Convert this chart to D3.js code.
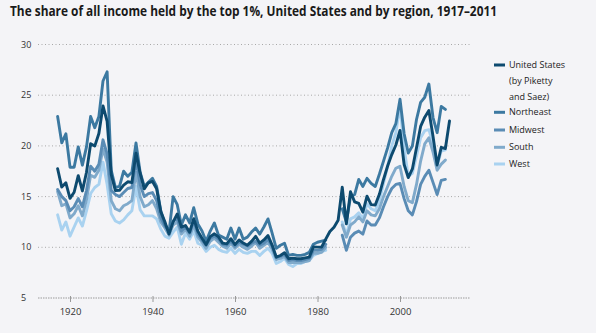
<!DOCTYPE html>
<html>
<head>
<meta charset="utf-8">
<script src="https://cdn.jsdelivr.net/npm/d3@7"></script>
<style>
  html, body { margin: 0; padding: 0; background: #f4f4f7; }
  svg { display: block; font-family: "Open Sans", "DejaVu Sans", sans-serif; }
</style>
</head>
<body>
<svg id="chart" width="596" height="333"></svg>
<script>
// top 1% income share, %; US runs 1917-2012, regions 1917-2011 with a gap 1983-85
const usYears = d3.range(1917, 2013)
const regionYears = d3.range(1917, 2012)

const unitedStates = [
  17.75, 15.94, 16.36, 14.83, 15.43, 17.06, 15.56, 17.4, 20.21, 19.98,
  21.23, 23.94, 22.42, 17.16, 15.6, 15.61, 16.14, 16.46, 16.39, 19.29,
  17.31, 15.76, 16.36, 16.49, 15.77, 13.52, 12.52, 11.3, 12.51, 13.29,
  11.99, 12.15, 11.49, 12.82, 11.59, 10.9, 10.26, 11.05, 11.33, 11.02,
  10.41, 10.34, 10.85, 10.27, 10.73, 10.42, 10.21, 10.58, 11.08, 10.41,
  10.73, 11.16, 10.22, 9.03, 9.19, 9.47, 8.87, 8.93, 8.87, 8.87,
  8.95, 9.03, 10.03, 10.02, 10.03, 10.8, 11.56, 11.98, 12.67, 15.92,
  12.31, 15.48, 14.48, 14.33, 13.47, 15.04, 14.21, 14.17, 15.23, 16.69,
  18.02, 19.14, 20.09, 21.52, 18.17, 16.88, 17.73, 19.82, 21.92, 22.83,
  23.5, 20.95, 18.12, 19.86, 19.74, 22.46
]

const northeast = [
  22.9, 20.3, 21.2, 17.9, 17.9, 19.9, 18.1, 19.9, 22.9, 21.8,
  22.9, 26.4, 27.3, 17.6, 15.9, 16.0, 17.5, 17.0, 17.4, 20.3,
  17.4, 16.0, 16.4, 16.8, 16.0, 13.6, 12.3, 11.5, 15.0, 14.2,
  12.2, 13.2, 12.4, 13.9, 12.3, 11.6, 10.6, 11.6, 12.4, 11.2,
  11.0, 10.8, 11.9, 10.8, 11.9, 10.8, 11.0, 11.5, 11.9, 11.3,
  12.0, 12.8, 11.4, 9.9, 10.2, 10.4, 9.2, 9.3, 9.2, 9.2,
  9.3, 9.5, 10.3, 10.5, 10.6, 10.7, null, null, null, 13.8,
  12.5, 15.0, 15.2, 16.7, 16.0, 16.8, 16.3, 16.0, 17.2, 18.5,
  19.8, 21.3, 22.2, 24.6, 21.2, 19.3, 20.0, 22.6, 24.3, 24.8,
  26.1, 22.8, 21.3, 23.9, 23.6
]

const midwest = [
  15.7, 15.0, 14.6, 13.6, 14.0, 14.8, 14.0, 15.6, 18.0, 17.5,
  18.2, 20.6, 19.2, 15.6, 15.2, 15.0, 15.4, 15.8, 15.9, 18.6,
  16.2, 15.0, 15.3, 15.4, 14.6, 12.9, 12.1, 11.6, 12.6, 12.8,
  11.6, 12.0, 11.4, 12.6, 11.3, 10.7, 10.2, 10.9, 11.1, 10.8,
  10.3, 10.2, 10.6, 10.1, 10.5, 10.3, 10.1, 10.4, 10.6, 10.2,
  10.4, 10.8, 10.1, 9.0, 9.1, 9.3, 8.7, 8.8, 8.7, 8.7,
  8.8, 8.9, 9.7, 9.7, 9.8, 10.3, null, null, null, 11.2,
  9.7, 11.0, 11.4, 11.6, 11.3, 12.6, 12.2, 12.2, 12.9, 14.0,
  15.0, 15.8, 16.2, 16.3, 14.8, 13.6, 13.2, 14.5, 16.2, 17.0,
  17.6, 16.4, 15.2, 16.6, 16.7
]

const south = [
  15.5, 14.1, 14.3, 12.9, 13.3, 14.1, 13.1, 14.7, 17.1, 16.9,
  17.6, 19.7, 18.4, 14.6, 13.8, 13.6, 14.1, 14.3, 14.6, 17.4,
  15.0, 14.0, 14.2, 14.6, 13.8, 12.5, 11.9, 11.2, 12.2, 12.5,
  11.3, 11.8, 11.1, 12.2, 11.0, 10.5, 9.9, 10.6, 10.9, 10.5,
  10.1, 9.9, 10.4, 9.9, 10.3, 10.0, 9.8, 10.1, 10.5, 9.9,
  10.2, 10.5, 9.8, 8.8, 8.9, 9.1, 8.5, 8.5, 8.5, 8.5,
  8.6, 8.7, 9.4, 9.4, 9.5, 10.0, null, null, null, 12.2,
  11.0, 12.2, 12.5, 13.0, 12.5, 13.6, 13.2, 13.1, 13.8, 15.0,
  16.0, 17.0, 17.8, 18.0, 16.0, 14.6, 14.4, 16.2, 18.5, 20.2,
  20.8, 19.4, 17.6, 18.2, 18.6
]

const west = [
  13.2, 11.7, 12.5, 11.1, 12.0, 12.9, 12.1, 13.6, 15.3, 15.9,
  16.2, 18.4, 16.2, 13.3, 12.6, 12.4, 12.7, 13.2, 13.6, 16.0,
  13.7, 13.1, 13.1, 13.1, 12.8, 11.8, 11.1, 10.9, 11.5, 12.0,
  10.3, 11.4, 10.8, 11.6, 10.4, 10.2, 9.6, 10.0, 10.2, 9.8,
  9.6, 9.5, 9.9, 9.4, 9.8, 9.5, 9.4, 9.6, 9.6, 9.2,
  9.6, 9.9, 9.4, 8.4, 8.6, 8.9, 8.3, 8.1, 8.4, 8.4,
  8.6, 8.7, 9.2, 9.4, 9.6, 9.7, null, null, null, 12.5,
  11.2, 12.8, 13.0, 13.4, 12.8, 14.3, 13.8, 13.6, 14.6, 16.3,
  18.0, 20.0, 21.3, 24.0, 19.8, 17.0, 17.3, 19.0, 20.8, 21.5,
  21.6, 20.2, 18.0, 19.5, 19.6
]

const yTicks = [5, 10, 15, 20, 25, 30]
const xTicks = [1920, 1940, 1960, 1980, 2000]

const seriesNames = ['United States', 'Northeast', 'Midwest', 'South', 'West']
const legendLabels = [['United States', '(by Piketty', 'and Saez)'], ['Northeast'], ['Midwest'], ['South'], ['West']]
const colors = ['#0d4a6f', '#3c79a1', '#5a8cb5', '#80aacb', '#a9d2f0']

const series = [
  { name: seriesNames[0], years: usYears, values: unitedStates },
  { name: seriesNames[1], years: regionYears, values: northeast },
  { name: seriesNames[2], years: regionYears, values: midwest },
  { name: seriesNames[3], years: regionYears, values: south },
  { name: seriesNames[4], years: regionYears, values: west }
]

const svg = d3.select('#chart')

const left = 38, right = 470

const x = d3.scaleLinear().domain([1920, 2000]).range([70, 400])
const y = d3.scaleLinear().domain([5, 30]).range([298, 44.5])

svg.append('text')
  .attr('x', 10)
  .attr('y', 16)
  .attr('font-size', 14)
  .attr('font-weight', 700)
  .attr('fill', '#1a1a1a')
  .attr('textLength', 487)
  .attr('lengthAdjust', 'spacingAndGlyphs')
  .text('The share of all income held by the top 1%, United States and by region, 1917\u20132011')

// dotted grid
svg.append('g')
  .selectAll('line')
  .data(yTicks)
  .enter()
  .append('line')
  .attr('x1', left)
  .attr('x2', right)
  .attr('y1', d => y(d))
  .attr('y2', d => y(d))
  .attr('stroke', d => d === 5 ? '#9a9a9a' : '#a8a8a8')
  .attr('stroke-width', 1)
  .attr('stroke-dasharray', d => d === 5 ? '1.5,1' : '1,2.5')

svg.append('g')
  .selectAll('text')
  .data(yTicks)
  .enter()
  .append('text')
  .attr('x', 21)
  .attr('y', d => y(d))
  .attr('dy', '0.35em')
  .attr('font-size', 9)
  .attr('fill', '#333')
  .text(d => d)

const xAxis = svg.append('g')
  .attr('transform', 'translate(0,' + y(5) + ')')
  .call(d3.axisBottom(x).tickValues(xTicks).tickFormat(d3.format('d')).tickSize(4).tickPadding(6))

xAxis.select('.domain').remove()
xAxis.selectAll('.tick line').attr('stroke', '#999').attr('y1', -2)
xAxis.selectAll('.tick text')
  .attr('font-size', 9.5)
  .attr('fill', '#333')
  .attr('font-family', '"Open Sans", sans-serif')

const line = d3.line()
  .defined(d => d[1] != null)
  .x(d => x(d[0]))
  .y(d => y(d[1]))

// regions first, US on top
const drawOrder = [4, 3, 2, 1, 0]
svg.append('g')
  .selectAll('path')
  .data(drawOrder)
  .enter()
  .append('path')
  .attr('d', i => line(series[i].years.map((yr, j) => [yr, series[i].values[j]])))
  .attr('fill', 'none')
  .attr('stroke', i => colors[i])
  .attr('stroke-width', 2.9)
  .attr('stroke-linejoin', 'round')
  .attr('stroke-linecap', 'round')

// legend
const legendY = [65, 112.3, 130, 147.3, 164]
const legend = svg.append('g')
legendLabels.forEach((lines, i) => {
  legend.append('line')
    .attr('x1', 494)
    .attr('x2', 505)
    .attr('y1', legendY[i])
    .attr('y2', legendY[i])
    .attr('stroke', colors[i])
    .attr('stroke-width', 3)
  lines.forEach((t, k) => {
    legend.append('text')
      .attr('x', 509)
      .attr('y', legendY[i] + k * 15.7)
      .attr('dy', '0.35em')
      .attr('font-size', 9)
      .attr('fill', '#222')
      .text(t)
  })
})
</script>
</body>
</html>
